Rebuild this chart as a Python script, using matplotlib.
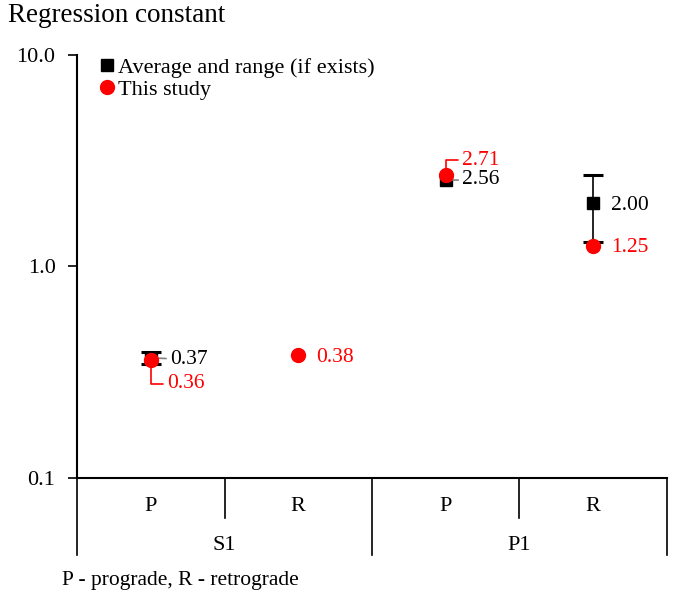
import matplotlib.pyplot as plt
from matplotlib.lines import Line2D
from matplotlib.transforms import blended_transform_factory

plt.rcParams['font.family'] = ['Liberation Serif', 'DejaVu Serif']

# data
groups = ['S1', 'P1']
kinds = ['P', 'R', 'P', 'R']
x = [0, 1, 2, 3]

avg_x = [0, 2, 3]
avg_vals = [0.37, 2.56, 2.00]
# range only where it exists
range_x = [0, 3]
range_mid = [0.37, 2.00]
range_low = [0.345, 1.30]
range_high = [0.395, 2.72]

study_x = [0, 1, 2, 3]
study_vals = [0.36, 0.38, 2.71, 1.25]

fig = plt.figure(figsize=(6.81, 6.01), dpi=100)
ax = fig.add_axes([0.1131, 0.2047, 0.8663, 0.7038])

yerr = [[v - lo for v, lo in zip(range_mid, range_low)],
        [hi - v for v, hi in zip(range_mid, range_high)]]
ax.errorbar(range_x, range_mid, yerr=yerr, fmt='none', ecolor='black',
            elinewidth=1.2, capsize=7, capthick=2.2, zorder=2)
ax.plot(avg_x, avg_vals, 's', color='black', ms=8, ls='none', zorder=3)
ax.plot(study_x, study_vals, 'o', color='red', ms=10, ls='none', zorder=4)

ax.set_yscale('log')
ax.set_ylim(0.1, 10)
ax.set_xlim(-0.5, 3.5)
ax.set_yticks([0.1, 1, 10])
ax.set_yticklabels(['0.1', '1.0', '10.0'], fontsize=16)
ax.minorticks_off()
ax.set_xticks([])
ax.tick_params(axis='y', direction='out', length=6.5, width=1.2, pad=9)
for s in ['top', 'right']:
    ax.spines[s].set_visible(False)
for s in ['left', 'bottom']:
    ax.spines[s].set_linewidth(1.5)

# value labels
fs = 15.5
va = 'center_baseline'
ax.annotate('0.37', xy=(avg_x[0], avg_vals[0]), xytext=(14, 0.5),
            textcoords='offset points', va=va, ha='left', fontsize=fs,
            color='black',
            arrowprops=dict(arrowstyle='-', color='gray', lw=1.2, shrinkA=1, shrinkB=0))
ax.annotate('0.36', xy=(study_x[0], study_vals[0]), xytext=(12, -15),
            textcoords='offset points', va=va, ha='left', fontsize=fs,
            color='red',
            arrowprops=dict(arrowstyle='-', color='red', lw=1.2, shrinkA=1, shrinkB=0,
                            connectionstyle='angle,angleA=0,angleB=90,rad=0'))
ax.annotate('0.38', xy=(study_x[1], study_vals[1]), xytext=(13, 0.5),
            textcoords='offset points', va=va, ha='left', fontsize=fs,
            color='red')
ax.annotate('2.71', xy=(study_x[2], study_vals[2]), xytext=(12, 12.5),
            textcoords='offset points', va=va, ha='left', fontsize=fs,
            color='red',
            arrowprops=dict(arrowstyle='-', color='red', lw=1.2, shrinkA=1, shrinkB=0,
                            connectionstyle='angle,angleA=0,angleB=90,rad=0'))
ax.annotate('2.56', xy=(avg_x[1], avg_vals[1]), xytext=(12, 2),
            textcoords='offset points', va=va, ha='left', fontsize=fs,
            color='black',
            arrowprops=dict(arrowstyle='-', color='gray', lw=1.2, shrinkA=1, shrinkB=0))
ax.annotate('2.00', xy=(avg_x[2], avg_vals[2]), xytext=(13, 0),
            textcoords='offset points', va=va, ha='left', fontsize=fs,
            color='black')
ax.annotate('1.25', xy=(study_x[3], study_vals[3]), xytext=(13, 0.5),
            textcoords='offset points', va=va, ha='left', fontsize=fs,
            color='red')

# category axis below
tr = blended_transform_factory(ax.transData, ax.transAxes)
short, long_ = -0.0946, -0.182
for xb, y2 in [(-0.5, long_), (0.5, short), (1.5, long_), (2.5, short), (3.5, long_)]:
    ax.plot([xb, xb], [0, y2], color='black', lw=1.2, transform=tr, clip_on=False)
for xi, k in zip(x, kinds):
    ax.text(xi, -0.067, k, transform=tr, ha='center', va='center', fontsize=16)
for xi, g in zip([0.5, 2.5], groups):
    ax.text(xi, -0.159, g, transform=tr, ha='center', va='center', fontsize=16)

fig.text(62 / 681, 1 - 580 / 601, 'P - prograde, R - retrograde',
         ha='left', va='center', fontsize=15.5)
fig.text(8 / 681, 1 - 15 / 601, 'Regression constant', ha='left', va='center',
         fontsize=19.5)

handles = [Line2D([], [], marker='s', color='black', ls='none', ms=8),
           Line2D([], [], marker='o', color='red', ls='none', ms=10)]
ax.legend(handles, ['Average and range (if exists)', 'This study'],
          loc='upper left', bbox_to_anchor=(0.025, 1.015), frameon=False,
          fontsize=16, handlelength=0.6, handletextpad=0.2, labelspacing=0.05,
          borderaxespad=0)

fig.savefig('out.png', dpi=100)
